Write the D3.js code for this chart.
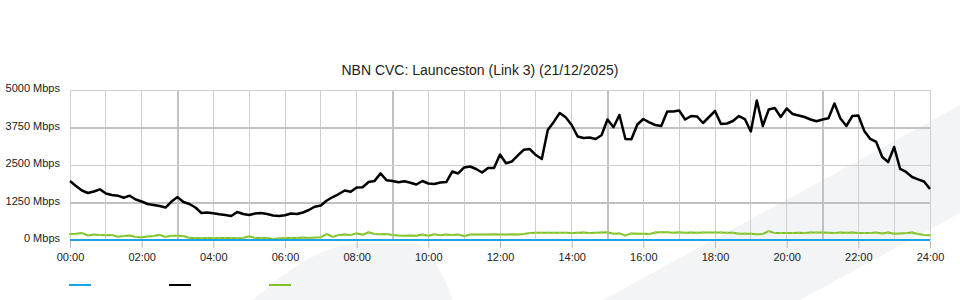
<!DOCTYPE html>
<html>
<head>
<meta charset="utf-8">
<script src="https://cdn.jsdelivr.net/npm/d3@7"></script>
<style>
  body { margin: 0; background: #fff; }
  text { font-family: "Liberation Sans", Arial, sans-serif; fill: #222; }
</style>
</head>
<body>
<div id="chart"></div>
<script>
var title = "NBN CVC: Launceston (Link 3) (21/12/2025)";
var yTicks = [0, 1250, 2500, 3750, 5000];
var xTickHours = [0, 2, 4, 6, 8, 10, 12, 14, 16, 18, 20, 22, 24];
var stepMinutes = 10;

// black series, one value per 10 minutes (Mbps)
var blackValues = [
    1967, 1800, 1650, 1567, 1617, 1690, 1550, 1500, 1477, 1410, 1477, 1350,
    1283, 1200, 1167, 1133, 1083, 1283, 1430, 1267, 1200, 1083, 900, 917,
    890, 857, 833, 800, 933, 867, 833, 883, 900, 867, 817, 800,
    823, 883, 867, 917, 1000, 1110, 1150, 1317, 1433, 1533, 1650, 1610,
    1750, 1757, 1933, 1970, 2220, 1990, 1967, 1923, 1957, 1910, 1850, 1967,
    1883, 1867, 1917, 1933, 2283, 2217, 2417, 2450, 2367, 2250, 2400, 2400,
    2850, 2557, 2617, 2817, 3010, 3033, 2833, 2700, 3667, 3937, 4233, 4090,
    3833, 3450, 3400, 3417, 3367, 3490, 4017, 3757, 4167, 3367, 3357, 3850,
    4033, 3923, 3833, 3800, 4283, 4283, 4317, 4017, 4133, 4117, 3900, 4100,
    4300, 3867, 3883, 3967, 4133, 4033, 3617, 4650, 3800, 4350, 4400, 4100,
    4383, 4200, 4150, 4100, 4017, 3957, 4017, 4057, 4550, 4050, 3800, 4133,
    4150, 3633, 3367, 3267, 2767, 2600, 3100, 2367, 2267, 2100, 2023, 1950,
    1700
];

// green series, one value per 10 minutes (Mbps)
var greenValues = [
    200, 210, 230, 150, 180, 170, 160, 170, 110, 130, 150, 100,
    90, 120, 130, 170, 100, 140, 140, 130, 70, 70, 60, 70,
    60, 70, 70, 70, 60, 70, 120, 70, 70, 70, 30, 50,
    70, 70, 70, 80, 70, 80, 90, 200, 100, 170, 180, 170,
    220, 180, 260, 200, 190, 200, 170, 150, 140, 150, 140, 180,
    140, 190, 160, 180, 170, 180, 130, 180, 180, 180, 180, 190,
    180, 180, 190, 180, 200, 230, 240, 240, 240, 240, 240, 240,
    230, 240, 250, 230, 240, 250, 260, 210, 220, 150, 220, 210,
    210, 200, 250, 260, 260, 240, 260, 240, 250, 240, 250, 250,
    250, 250, 240, 240, 210, 210, 210, 190, 200, 300, 230, 230,
    230, 230, 240, 230, 250, 250, 250, 240, 230, 250, 240, 250,
    230, 230, 230, 250, 220, 250, 210, 220, 230, 250, 200, 170,
    160
];

// blue series, hourly (Mbps)
var blueHours = [0, 1, 2, 3, 4, 5, 6, 7, 8, 9, 10, 11, 12, 13, 14, 15, 16, 17, 18, 19, 20, 21, 22, 23, 24];
var blueValues = [0, 0, 0, 0, 0, 0, 0, 0, 0, 0, 0, 0, 0, 0, 0, 0, 0, 0, 0, 0, 0, 0, 0, 0, 0];

var seriesColors = ["#1ba3e6", "#000000", "#7fc22a"];

var width = 960;
var height = 300;
var plotLeft = 70, plotRight = 930, plotTop = 90, plotBottom = 240;

var svg = d3.select("#chart").append("svg")
    .attr("width", width)
    .attr("height", height);

// faint watermark in the background
svg.append("path")
    .attr("d", "M253,300 C285,272 318,246 360,243 L415,243 C428,246 442,272 453,300 Z")
    .attr("fill", "#f3f4f6");
svg.append("path")
    .attr("d", "M603,300 L960,105 L960,213 L800,300 Z")
    .attr("fill", "#f3f4f6");

var x = d3.scaleLinear().domain([0, 24 * 60]).range([plotLeft, plotRight]);
var y = d3.scaleLinear().domain([0, 5000]).range([plotBottom, plotTop]);

// grid
var hours = d3.range(0, 25);
svg.append("g").selectAll("line")
    .data(hours)
    .enter().append("line")
    .attr("x1", d => x(d * 60)).attr("x2", d => x(d * 60))
    .attr("y1", plotTop).attr("y2", plotBottom)
    .attr("stroke", d => (d % 6 === 3) ? "#c2c2c2" : "#cfcfcf")
    .attr("stroke-width", d => (d % 6 === 3) ? 2 : 1)
    .attr("shape-rendering", "crispEdges");

svg.append("g").selectAll("line")
    .data(yTicks)
    .enter().append("line")
    .attr("x1", plotLeft).attr("x2", plotRight)
    .attr("y1", d => y(d)).attr("y2", d => y(d))
    .attr("stroke", d => (d === 1250 || d === 3750) ? "#c2c2c2" : "#cfcfcf")
    .attr("stroke-width", d => (d === 1250 || d === 3750) ? 2 : 1)
    .attr("shape-rendering", "crispEdges");

// y labels
svg.append("g").selectAll("text")
    .data(yTicks)
    .enter().append("text")
    .attr("x", 60)
    .attr("y", d => y(d) + 2)
    .attr("text-anchor", "end")
    .style("font-size", "11px")
    .text(d => d + " Mbps");

// x axis ticks + labels
var xAxis = d3.axisBottom(x)
    .tickValues(xTickHours.map(h => h * 60))
    .tickFormat(d => d3.format("02d")(d / 60) + ":00")
    .tickSize(7)
    .tickPadding(5);

var gx = svg.append("g")
    .attr("transform", "translate(0," + (plotBottom + 1) + ")")
    .call(xAxis);
gx.select(".domain").remove();
gx.selectAll(".tick line").attr("stroke", "#bbbbbb");
gx.selectAll(".tick text")
    .style("font-size", "11px")
    .style("font-family", "'Liberation Sans', Arial, sans-serif")
    .attr("fill", "#222");

// lines
var line = d3.line()
    .x(d => x(d[0]))
    .y(d => y(d[1]));

var greenData = greenValues.map((v, i) => [i * stepMinutes, v]);
var blackData = blackValues.map((v, i) => [i * stepMinutes, v]);
var blueData = blueValues.map((v, i) => [blueHours[i] * 60, v]);

svg.append("path")
    .datum(greenData)
    .attr("d", line)
    .attr("fill", "none")
    .attr("stroke", seriesColors[2])
    .attr("stroke-width", 2);

svg.append("g").selectAll("rect")
    .data(greenData)
    .enter().append("rect")
    .attr("x", d => x(d[0]) - 1)
    .attr("y", d => y(d[1]) - 1)
    .attr("width", 2)
    .attr("height", 2)
    .attr("fill", "#9ad24f");

svg.append("path")
    .datum(blackData)
    .attr("d", line)
    .attr("fill", "none")
    .attr("stroke", seriesColors[1])
    .attr("stroke-width", 2.5)
    .attr("stroke-linejoin", "round");

svg.append("path")
    .datum(blueData)
    .attr("d", line)
    .attr("fill", "none")
    .attr("stroke", seriesColors[0])
    .attr("stroke-width", 2);

// title
svg.append("text")
    .attr("x", 480)
    .attr("y", 75)
    .attr("text-anchor", "middle")
    .style("font-size", "14px")
    .text(title);

// legend (no labels)
svg.append("g").selectAll("line")
    .data(seriesColors)
    .enter().append("line")
    .attr("x1", (d, i) => 69 + i * 100)
    .attr("x2", (d, i) => 91 + i * 100)
    .attr("y1", 285).attr("y2", 285)
    .attr("stroke", d => d)
    .attr("stroke-width", 2);
</script>
</body>
</html>
